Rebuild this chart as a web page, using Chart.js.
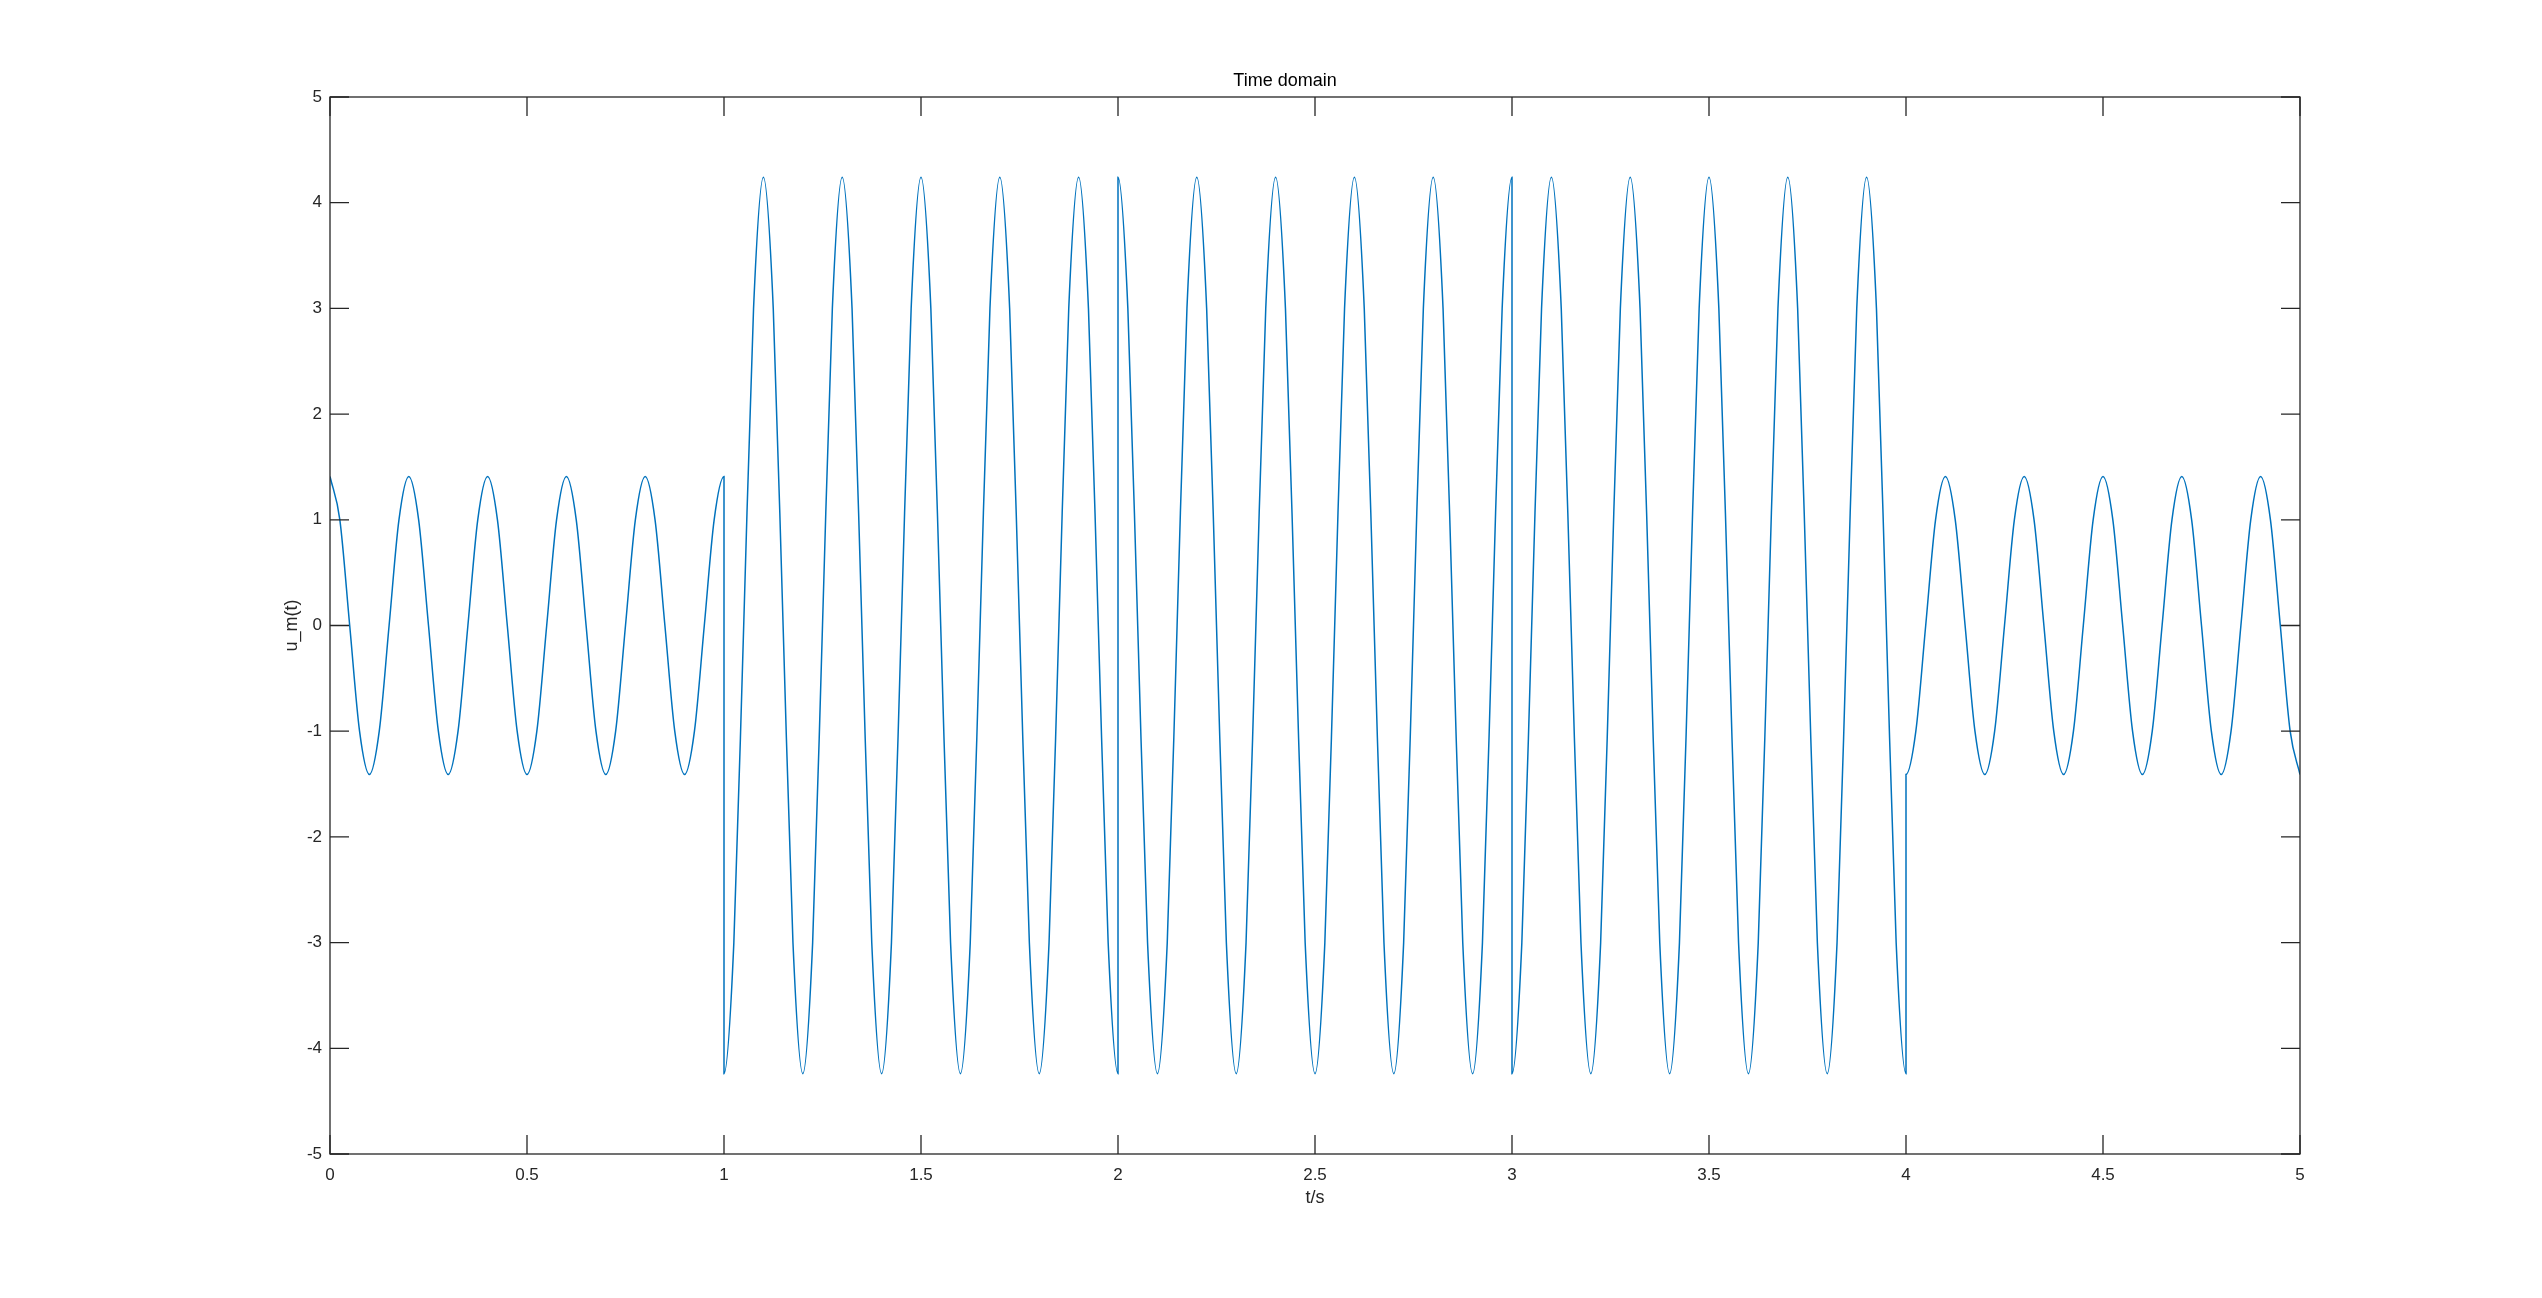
<!DOCTYPE html>
<html>
<head>
<meta charset="utf-8">
<title>Time domain</title>
<script src="https://cdn.jsdelivr.net/npm/chart.js@4/dist/chart.umd.min.js"></script>
<style>
  html, body { margin: 0; padding: 0; background: #fff; }
  #wrap { width: 2542px; height: 1298px; position: relative; }
</style>
</head>
<body>
<div id="wrap"><canvas id="timeChart"></canvas></div>
<script>
// --- SIGNAL DATA (one sample every 25 ms) ---
const segmentStarts = [0, 1, 2, 3, 4]; // s
const sampleStep = 0.025; // s

// 0 .. 1 s, amplitude ~1.41
const uSeg0 = [
  1.41, 1.0, 0, -1.0, -1.41, -1.0, 0, 1.0,
  1.41, 1.0, 0, -1.0, -1.41, -1.0, 0, 1.0,
  1.41, 1.0, 0, -1.0, -1.41, -1.0, 0, 1.0,
  1.41, 1.0, 0, -1.0, -1.41, -1.0, 0, 1.0,
  1.41, 1.0, 0, -1.0, -1.41, -1.0, 0, 1.0,
  1.41
];
// 1 .. 2 s, amplitude ~4.24, starts at a trough
const uSeg1 = [
  -4.24, -3.0, 0, 3.0, 4.24, 3.0, 0, -3.0,
  -4.24, -3.0, 0, 3.0, 4.24, 3.0, 0, -3.0,
  -4.24, -3.0, 0, 3.0, 4.24, 3.0, 0, -3.0,
  -4.24, -3.0, 0, 3.0, 4.24, 3.0, 0, -3.0,
  -4.24, -3.0, 0, 3.0, 4.24, 3.0, 0, -3.0,
  -4.24
];
// 2 .. 3 s, starts at a peak
const uSeg2 = [
  4.24, 3.0, 0, -3.0, -4.24, -3.0, 0, 3.0,
  4.24, 3.0, 0, -3.0, -4.24, -3.0, 0, 3.0,
  4.24, 3.0, 0, -3.0, -4.24, -3.0, 0, 3.0,
  4.24, 3.0, 0, -3.0, -4.24, -3.0, 0, 3.0,
  4.24, 3.0, 0, -3.0, -4.24, -3.0, 0, 3.0,
  4.24
];
// 3 .. 4 s, starts at a trough again
const uSeg3 = [
  -4.24, -3.0, 0, 3.0, 4.24, 3.0, 0, -3.0,
  -4.24, -3.0, 0, 3.0, 4.24, 3.0, 0, -3.0,
  -4.24, -3.0, 0, 3.0, 4.24, 3.0, 0, -3.0,
  -4.24, -3.0, 0, 3.0, 4.24, 3.0, 0, -3.0,
  -4.24, -3.0, 0, 3.0, 4.24, 3.0, 0, -3.0,
  -4.24
];
// 4 .. 5 s, back to ~1.41, starts at a trough
const uSeg4 = [
  -1.41, -1.0, 0, 1.0, 1.41, 1.0, 0, -1.0,
  -1.41, -1.0, 0, 1.0, 1.41, 1.0, 0, -1.0,
  -1.41, -1.0, 0, 1.0, 1.41, 1.0, 0, -1.0,
  -1.41, -1.0, 0, 1.0, 1.41, 1.0, 0, -1.0,
  -1.41, -1.0, 0, 1.0, 1.41, 1.0, 0, -1.0,
  -1.41
];
const segments = [uSeg0, uSeg1, uSeg2, uSeg3, uSeg4];

// --- AXIS LABELS ---
const xTickLabels = ['0', '0.5', '1', '1.5', '2', '2.5', '3', '3.5', '4', '4.5', '5'];
const yTickLabels = ['-5', '-4', '-3', '-2', '-1', '0', '1', '2', '3', '4', '5'];

const axisColor = 'rgb(38, 38, 38)';
const lineColor = 'rgb(0, 114, 189)';
const tickLen = 19;

// build the {x, y} points; segment ends share a time so the jumps are vertical
const points = [];
segments.forEach((seg, s) => {
  seg.forEach((v, i) => {
    points.push({ x: Number((segmentStarts[s] + i * sampleStep).toFixed(3)), y: v });
  });
});

// MATLAB-like box with inward ticks on all four sides
const boxTicks = {
  id: 'boxTicks',
  afterDatasetsDraw(chart) {
    const { ctx, chartArea: a, scales: { x, y } } = chart;
    ctx.save();
    ctx.strokeStyle = axisColor;
    ctx.lineWidth = 1.3;
    ctx.beginPath();
    x.ticks.forEach(t => {
      const px = x.getPixelForValue(t.value);
      ctx.moveTo(px, a.bottom);
      ctx.lineTo(px, a.bottom - tickLen);
      ctx.moveTo(px, a.top);
      ctx.lineTo(px, a.top + tickLen);
    });
    y.ticks.forEach(t => {
      const py = y.getPixelForValue(t.value);
      ctx.moveTo(a.left, py);
      ctx.lineTo(a.left + tickLen, py);
      ctx.moveTo(a.right, py);
      ctx.lineTo(a.right - tickLen, py);
    });
    ctx.stroke();
    ctx.strokeRect(a.left, a.top, a.right - a.left, a.bottom - a.top);
    ctx.restore();
  }
};

Chart.defaults.font.family = "'Liberation Sans', Arial, sans-serif";
Chart.defaults.color = axisColor;

new Chart(document.getElementById('timeChart'), {
  type: 'line',
  data: {
    datasets: [{
      label: 'u_m(t)',
      data: points,
      borderColor: lineColor,
      borderWidth: 1.5,
      pointRadius: 0,
      fill: false,
      cubicInterpolationMode: 'monotone'
    }]
  },
  options: {
    responsive: true,
    maintainAspectRatio: false,
    animation: false,
    events: [],
    layout: { padding: { left: 270, right: 242, top: 0, bottom: 74 } },
    plugins: {
      legend: { display: false },
      tooltip: { enabled: false },
      title: {
        display: true,
        text: 'Time domain',
        color: '#000',
        font: { size: 18, weight: 'normal' },
        padding: { top: 70.7, bottom: 4.7 }
      }
    },
    scales: {
      x: {
        type: 'linear',
        min: 0,
        max: 5,
        grid: { display: false, drawTicks: false },
        border: { display: false },
        ticks: {
          stepSize: 0.5,
          maxRotation: 0,
          autoSkip: false,
          padding: 11,
          font: { size: 17 },
          callback: (v, i) => xTickLabels[i]
        },
        title: {
          display: true,
          text: 't/s',
          font: { size: 18 },
          padding: { top: 0, bottom: 15.2 }
        },
        afterFit(scale) {
          scale.height = 70;
          scale.paddingLeft = 0;
          scale.paddingRight = 0;
        }
      },
      y: {
        min: -5,
        max: 5,
        grid: { display: false, drawTicks: false },
        border: { display: false },
        ticks: {
          stepSize: 1,
          autoSkip: false,
          padding: 8,
          font: { size: 17 },
          callback: (v, i) => yTickLabels[i]
        },
        title: {
          display: true,
          text: 'u_m(t)',
          font: { size: 18 },
          padding: { top: 11.1, bottom: 0 }
        },
        afterFit(scale) {
          scale.width = 60;
          scale.paddingTop = 0;
          scale.paddingBottom = 0;
        }
      }
    }
  },
  plugins: [boxTicks]
});
</script>
</body>
</html>
